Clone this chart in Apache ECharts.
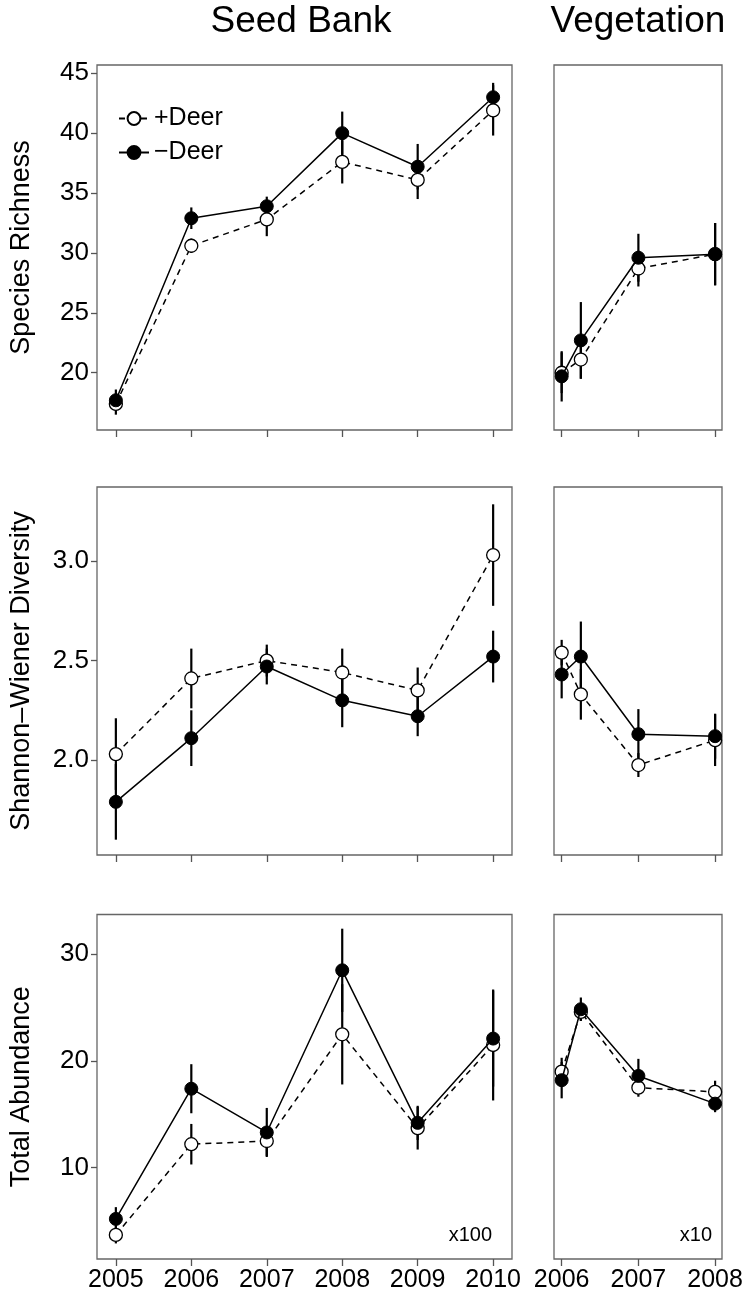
<!DOCTYPE html>
<html>
<head>
<meta charset="utf-8">
<script src="https://cdn.jsdelivr.net/npm/echarts@6/dist/echarts.min.js"></script>
<style>
html,body{margin:0;padding:0;background:#fff;}
#chart{width:748px;height:1294px;}
</style>
</head>
<body>
<div id="chart"></div>
<script>
// ---------- data ----------
const seedYears = [2005, 2006, 2007, 2008, 2009, 2010];
const vegTimes = [2006, 2006.25, 2007, 2008];

const seedYearTicks = [2005, 2006, 2007, 2008, 2009, 2010];
const vegYearTicks = [2006, 2007, 2008];
const richTicks = [20, 25, 30, 35, 40, 45];
const divTicks = [2.0, 2.5, 3.0];
const abunTicks = [10, 20, 30];

// Species richness
const seedRichPlus    = [17.4, 30.6, 32.8, 37.6, 36.1, 41.9];
const seedRichPlusSE  = [0.9, 0.6, 1.4, 1.8, 1.6, 2.1];
const seedRichMinus   = [17.7, 32.9, 33.9, 40.0, 37.2, 43.0];
const seedRichMinusSE = [0.9, 0.9, 0.8, 1.8, 1.9, 1.2];
const vegRichPlus     = [20.0, 21.1, 28.7, 29.9];
const vegRichPlusSE   = [1.7, 1.6, 1.5, 2.6];
const vegRichMinus    = [19.7, 22.7, 29.6, 29.9];
const vegRichMinusSE  = [2.1, 3.2, 2.0, 2.6];

// Shannon-Wiener diversity
const seedDivPlus    = [2.03, 2.41, 2.50, 2.44, 2.35, 3.03];
const seedDivPlusSE  = [0.18, 0.15, 0.08, 0.12, 0.115, 0.255];
const seedDivMinus   = [1.79, 2.11, 2.47, 2.30, 2.22, 2.52];
const seedDivMinusSE = [0.19, 0.14, 0.09, 0.135, 0.10, 0.13];
const vegDivPlus     = [2.54, 2.33, 1.975, 2.10];
const vegDivPlusSE   = [0.064, 0.127, 0.06, 0.13];
const vegDivMinus    = [2.43, 2.52, 2.13, 2.12];
const vegDivMinusSE  = [0.12, 0.176, 0.126, 0.113];

// Total abundance
const seedAbunPlus    = [3.7, 12.2, 12.5, 22.5, 13.7, 21.5];
const seedAbunPlusSE  = [0.8, 1.9, 1.4, 4.7, 2.0, 5.2];
const seedAbunMinus   = [5.2, 17.4, 13.3, 28.5, 14.2, 22.1];
const seedAbunMinusSE = [1.1, 2.3, 2.3, 3.9, 1.6, 4.5];
const vegAbunPlus     = [19.0, 24.6, 17.5, 17.1];
const vegAbunPlusSE   = [1.3, 0.8, 0.85, 1.05];
const vegAbunMinus    = [18.2, 24.85, 18.6, 16.0];
const vegAbunMinusSE  = [1.7, 1.1, 1.6, 0.8];

// ---------- layout ----------
const FONT = "'Liberation Sans', Arial, Helvetica, sans-serif";
const rows = [
  {top: 65, height: 365, min: 15.22, max: 45.69, ticks: richTicks, name: 'Species Richness', fmt: v => String(v)},
  {top: 487, height: 368, min: 1.523, max: 3.372, ticks: divTicks, name: 'Shannon\u2013Wiener Diversity', fmt: v => v.toFixed(1)},
  {top: 914.5, height: 344.5, min: 1.44, max: 33.73, ticks: abunTicks, name: 'Total Abundance', fmt: v => String(v)}
];
const cols = [
  {left: 90, width: 422, min: 2004.75, max: 2010.25, ticks: seedYearTicks, x: seedYears},
  {left: 554, width: 168, min: 2005.9, max: 2008.09, ticks: vegYearTicks, x: vegTimes}
];
const panelData = [
  [[seedRichPlus, seedRichPlusSE, seedRichMinus, seedRichMinusSE], [vegRichPlus, vegRichPlusSE, vegRichMinus, vegRichMinusSE]],
  [[seedDivPlus, seedDivPlusSE, seedDivMinus, seedDivMinusSE], [vegDivPlus, vegDivPlusSE, vegDivMinus, vegDivMinusSE]],
  [[seedAbunPlus, seedAbunPlusSE, seedAbunMinus, seedAbunMinusSE], [vegAbunPlus, vegAbunPlusSE, vegAbunMinus, vegAbunMinusSE]]
];

const grids = [], xAxes = [], yAxes = [], series = [];
rows.forEach((r, ri) => {
  cols.forEach((c, ci) => {
    const gi = ri * 2 + ci;
    grids.push({left: c.left, top: r.top, width: c.width, height: r.height, show: true,
      borderColor: '#666', borderWidth: 1.3, backgroundColor: 'transparent', containLabel: false});
    xAxes.push({type: 'value', gridIndex: gi, min: c.min, max: c.max,
      axisLine: {show: false}, splitLine: {show: false},
      axisTick: {show: true, customValues: c.ticks, length: 7, lineStyle: {color: '#555', width: 1.3}},
      axisLabel: {show: ri === 2, customValues: c.ticks, margin: 9, fontSize: 25, color: '#000', fontFamily: FONT,
        formatter: v => String(Math.round(v))}
    });
    yAxes.push({type: 'value', gridIndex: gi, min: r.min, max: r.max,
      name: ci === 0 ? r.name : '', nameLocation: 'middle', nameRotate: 90, nameGap: 62,
      nameTextStyle: {fontSize: 27, color: '#000', fontFamily: FONT},
      axisLine: {show: false}, splitLine: {show: false},
      axisTick: {show: ci === 0, customValues: r.ticks, length: 6, lineStyle: {color: '#555', width: 1.3}},
      axisLabel: {show: ci === 0, customValues: r.ticks, margin: 8, fontSize: 26, color: '#000', fontFamily: FONT,
        formatter: v => r.fmt(v)}
    });
    const [p, pse, m, mse] = panelData[ri][ci];
    const errData = [];
    c.x.forEach((xv, i) => {
      errData.push([xv, p[i] - pse[i], p[i] + pse[i]]);
      errData.push([xv, m[i] - mse[i], m[i] + mse[i]]);
    });
    series.push({
      type: 'custom', name: 'err', xAxisIndex: gi, yAxisIndex: gi, z: 1, silent: true,
      data: errData,
      encode: {x: 0, y: [1, 2]},
      renderItem: (params, api) => {
        const a = api.coord([api.value(0), api.value(1)]);
        const b = api.coord([api.value(0), api.value(2)]);
        return {type: 'line', shape: {x1: a[0], y1: a[1], x2: b[0], y2: b[1]},
          style: {stroke: '#000', lineWidth: 2.2}};
      }
    });
    series.push({
      type: 'line', name: '+Deer', xAxisIndex: gi, yAxisIndex: gi, z: 2,
      data: c.x.map((xv, i) => [xv, p[i]]),
      symbol: 'circle', symbolSize: 13, showAllSymbol: true,
      lineStyle: {color: '#000', width: 1.5, type: [6, 5]},
      itemStyle: {color: '#fff', borderColor: '#000', borderWidth: 1.3},
      emphasis: {disabled: true}, animation: false
    });
    series.push({
      type: 'line', name: '\u2212Deer', xAxisIndex: gi, yAxisIndex: gi, z: 3,
      data: c.x.map((xv, i) => [xv, m[i]]),
      symbol: 'circle', symbolSize: 13, showAllSymbol: true,
      lineStyle: {color: '#000', width: 1.5, type: 'solid'},
      itemStyle: {color: '#000', borderColor: '#000', borderWidth: 1},
      emphasis: {disabled: true}, animation: false
    });
  });
});

const chart = echarts.init(document.getElementById('chart'), null, {renderer: 'canvas'});
chart.setOption({
  backgroundColor: '#fff',
  animation: false,
  textStyle: {fontFamily: FONT},
  grid: grids,
  xAxis: xAxes,
  yAxis: yAxes,
  series: series,
  legend: {
    data: ['+Deer', '\u2212Deer'], orient: 'vertical', left: 113, top: 101,
    itemWidth: 30, itemHeight: 16, itemGap: 9, selectedMode: false,
    textStyle: {fontSize: 25, color: '#000', fontFamily: FONT}
  },
  graphic: [
    {type: 'text', x: 301, y: 22, style: {text: 'Seed Bank', fontSize: 37, fontFamily: FONT, fill: '#000', textAlign: 'center', textVerticalAlign: 'middle'}},
    {type: 'text', x: 638, y: 22, style: {text: 'Vegetation', fontSize: 37, fontFamily: FONT, fill: '#000', textAlign: 'center', textVerticalAlign: 'middle'}},
    {type: 'text', x: 492, y: 1235, style: {text: 'x100', fontSize: 20, fontFamily: FONT, fill: '#000', textAlign: 'right', textVerticalAlign: 'middle'}},
    {type: 'text', x: 712, y: 1235, style: {text: 'x10', fontSize: 20, fontFamily: FONT, fill: '#000', textAlign: 'right', textVerticalAlign: 'middle'}}
  ]
});
</script>
</body>
</html>
